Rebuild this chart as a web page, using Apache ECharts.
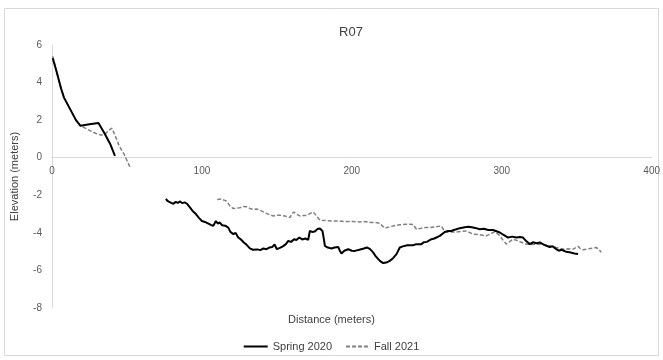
<!DOCTYPE html>
<html>
<head>
<meta charset="utf-8">
<script src="https://cdn.jsdelivr.net/npm/echarts@6/dist/echarts.min.js"></script>
<style>
html,body{margin:0;padding:0;background:#fff;}
#chart{width:663px;height:360px;}
</style>
</head>
<body>
<div id="chart"></div>
<script>
var chartTitle = 'R07';
var xAxisTitle = 'Distance (meters)';
var yAxisTitle = 'Elevation (meters)';
var seriesNames = ['Spring 2020', 'Fall 2021'];
var xTicks = [0, 100, 200, 300, 400];
var yTicks = [-8, -6, -4, -2, 0, 2, 4, 6];

// null elevation = gap in the survey line
var springDist = [0.5,3,6,8,12,16,19,25,31,35,39,42,
  59,
  76,77,78,79.5,81,82.5,84,85.5,87,88.5,90,92,94,96,98,100,102,104,106,107.6,109.3,110.5,112,113.5,115.5,117.6,119,121,122.5,124.2,126,128,130,132,134,135.3,137,139,141,143,145,147,148.5,150,152,154,156,157.6,159.5,161.5,163,165,167,169,170.9,172,173.5,175.3,177,178.7,180.4,181.5,182,184,186.4,188.5,190.9,192,193.1,195,197.6,200,202,205,208,210,212,214.2,216,218.7,220.9,223,225.3,227.5,229.8,232,234,237,240.9,243,246.4,248,250,253.1,255,258.7,260,262,264.2,266.4,268,269.8,272,275.3,278,280.9,283,285.3,288,291,294.2,296,298.7,301,304.2,307,309.8,312,314.2,316.5,318.7,321,323,325.3,327.5,329.8,332,334,336.4,338,340,343.1,346,348.5,350.9];
var springElev = [5.3,4.6,3.7,3.2,2.6,2.0,1.7,1.78,1.85,1.3,0.7,0.1,
  null,
  -2.19,-2.3,-2.25,-2.4,-2.45,-2.35,-2.4,-2.33,-2.42,-2.38,-2.45,-2.65,-2.85,-3.0,-3.2,-3.37,-3.42,-3.5,-3.58,-3.63,-3.37,-3.5,-3.45,-3.6,-3.62,-3.72,-3.95,-4.07,-4.0,-4.25,-4.35,-4.51,-4.65,-4.83,-4.9,-4.96,-4.88,-4.92,-4.83,-4.87,-4.78,-4.75,-4.62,-4.87,-4.8,-4.72,-4.6,-4.43,-4.48,-4.34,-4.38,-4.25,-4.35,-4.3,-4.37,-3.9,-3.95,-3.93,-3.8,-3.77,-3.9,-4.4,-4.69,-4.78,-4.83,-4.78,-4.75,-4.95,-5.1,-4.95,-4.87,-4.95,-4.96,-4.9,-4.83,-4.78,-4.85,-5.04,-5.25,-5.49,-5.61,-5.58,-5.49,-5.35,-5.13,-4.78,-4.72,-4.66,-4.66,-4.6,-4.6,-4.5,-4.48,-4.34,-4.3,-4.16,-4.07,-3.95,-3.9,-3.9,-3.85,-3.81,-3.75,-3.7,-3.68,-3.72,-3.75,-3.81,-3.78,-3.85,-3.85,-3.9,-3.98,-4.1,-4.25,-4.2,-4.25,-4.22,-4.25,-4.45,-4.6,-4.5,-4.55,-4.51,-4.6,-4.69,-4.75,-4.72,-4.87,-4.95,-4.9,-5.01,-5.05,-5.1,-5.13];

var fallDist = [0.5,3,6,8,12,16,19,24,29,33,36,38.5,40,42,45,48,50,52,
  80,
  110.2,113,116.4,118.5,120.9,123,125.3,127.5,129.8,132,134.2,136.5,138.7,141,143.1,145.5,147.6,150,153.1,156,158.7,160,161.3,163,165.3,167.5,169.8,172,174.2,176.5,178.7,183,187.6,192,196,200.9,205,209,213.1,216,218.7,220,222,225,227.6,232,236.4,240.9,243.1,248.7,252,256,259.8,262,266,269.8,273,276.4,278.5,280.9,285,289.8,292.5,295.3,298,301,303.1,305.5,307.6,310,313,316.4,320,325.3,329,334.2,337.5,340.9,344,347.6,349.5,350.9,352.5,354.2,358,362.9,364.5,366.4];
var fallElev = [5.4,4.6,3.7,3.2,2.6,2.0,1.7,1.5,1.3,1.2,1.3,1.5,1.57,1.2,0.6,0.2,-0.15,-0.5,
  null,
  -2.22,-2.2,-2.31,-2.55,-2.71,-2.68,-2.66,-2.6,-2.61,-2.7,-2.75,-2.73,-2.79,-2.88,-2.96,-3.05,-3.1,-3.06,-3.07,-3.12,-3.19,-3.0,-2.89,-3.0,-3.1,-3.08,-3.07,-2.98,-2.89,-3.1,-3.33,-3.35,-3.37,-3.37,-3.4,-3.4,-3.42,-3.4,-3.45,-3.45,-3.49,-3.6,-3.75,-3.68,-3.63,-3.57,-3.54,-3.55,-3.81,-3.72,-3.72,-3.68,-3.63,-3.95,-3.96,-3.95,-3.92,-3.9,-3.98,-4.07,-4.1,-4.16,-4.05,-3.95,-4.1,-4.4,-4.6,-4.45,-4.34,-4.4,-4.5,-4.6,-4.62,-4.6,-4.65,-4.72,-4.8,-4.87,-4.85,-4.87,-4.78,-4.72,-4.85,-4.9,-4.85,-4.78,-4.85,-5.04];

function pairs(xs, ys) {
  return xs.map(function (x, i) { return [x, ys[i] === null ? '-' : ys[i]]; });
}

var FONT = "'Liberation Sans', Arial, sans-serif";
var GRID_TOP = 45, GRID_BOTTOM = 52, H = 360;
var plotH = H - GRID_TOP - GRID_BOTTOM;
var yMin = yTicks[0], yMax = yTicks[yTicks.length - 1];
// distance from the bottom of the plot to the zero line, so the x axis sits at elevation 0
var zeroOffset = -plotH * (0 - yMin) / (yMax - yMin);

var chart = echarts.init(document.getElementById('chart'), null, {renderer: 'canvas'});
chart.setOption({
  animation: false,
  backgroundColor: '#ffffff',
  textStyle: {fontFamily: FONT},
  title: {
    text: chartTitle, left: 346, top: 21, textAlign: 'center',
    textStyle: {fontSize: 13, fontWeight: 'normal', color: '#404040', fontFamily: FONT}
  },
  grid: {left: 52, right: 11, top: GRID_TOP, bottom: GRID_BOTTOM, containLabel: false},
  legend: {
    bottom: 3, left: 'center',
    itemWidth: 24, itemHeight: 2, itemGap: 14,
    textStyle: {fontSize: 11, color: '#404040', fontFamily: FONT},
    data: [
      {name: seriesNames[0], icon: 'rect', itemStyle: {color: '#000'}},
      {name: seriesNames[1], icon: 'path://M0,0 L4,0 L4,2 L0,2 Z M6,0 L10,0 L10,2 L6,2 Z M12,0 L16,0 L16,2 L12,2 Z M18,0 L22,0 L22,2 L18,2 Z', itemStyle: {color: '#808080'}}
    ]
  },
  graphic: [
    {type: 'rect', shape: {x: 4.5, y: 8.5, width: 654, height: 347}, style: {fill: 'none', stroke: '#d9d9d9', lineWidth: 1}, silent: true},
    {type: 'text', left: 'center', top: 314, style: {text: xAxisTitle, fontSize: 11, fill: '#404040', font: "11px 'Liberation Sans', Arial, sans-serif"}}
  ],
  xAxis: {
    type: 'value', min: xTicks[0], max: xTicks[xTicks.length - 1], interval: 100,
    position: 'bottom', offset: zeroOffset,
    axisLine: {onZero: false, lineStyle: {color: '#d9d9d9', width: 1}},
    axisTick: {show: false},
    splitLine: {show: false},
    axisLabel: {color: '#595959', fontSize: 10, margin: 9, fontFamily: FONT}
  },
  yAxis: {
    type: 'value', min: yMin, max: yMax, interval: 2,
    name: yAxisTitle, nameLocation: 'middle', nameGap: 32, nameRotate: 90,
    nameTextStyle: {fontSize: 11, color: '#404040', fontFamily: FONT},
    axisLine: {show: true, onZero: false, lineStyle: {color: '#d9d9d9', width: 1}},
    axisTick: {show: false},
    splitLine: {show: false},
    axisLabel: {color: '#595959', fontSize: 10, margin: 10, fontFamily: FONT}
  },
  series: [
    {
      name: seriesNames[0], type: 'line', data: pairs(springDist, springElev),
      showSymbol: false, connectNulls: false, z: 3,
      lineStyle: {color: '#000000', width: 2}, itemStyle: {color: '#000000'}
    },
    {
      name: seriesNames[1], type: 'line', data: pairs(fallDist, fallElev),
      showSymbol: false, connectNulls: false, z: 2,
      lineStyle: {color: '#808080', width: 1.5, type: [4, 2]}, itemStyle: {color: '#808080'}
    }
  ]
});
</script>
</body>
</html>
